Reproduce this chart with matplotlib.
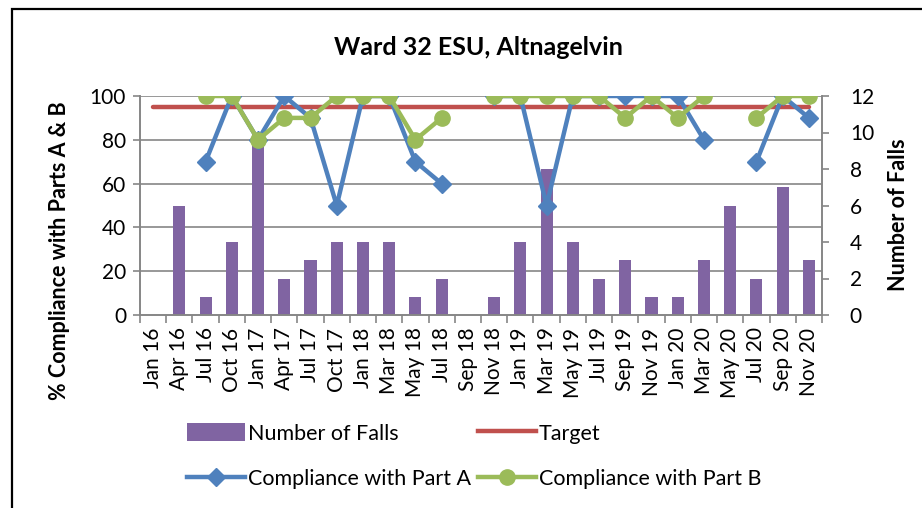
import numpy as np
import matplotlib
matplotlib.use("Agg")
import matplotlib.pyplot as plt
from matplotlib.patches import Patch, Rectangle
from matplotlib.lines import Line2D

plt.rcParams['font.family'] = ['Lato', 'DejaVu Sans']

categories = ["Jan 16", "Apr 16", "Jul 16", "Oct 16", "Jan 17", "Apr 17", "Jul 17",
              "Oct 17", "Jan 18", "Mar 18", "May 18", "Jul 18", "Sep 18", "Nov 18",
              "Jan 19", "Mar 19", "May 19", "Jul 19", "Sep 19", "Nov 19", "Jan 20",
              "Mar 20", "May 20", "Jul 20", "Sep 20", "Nov 20"]
falls = [0, 6, 1, 4, 10, 2, 3, 4, 4, 4, 1, 2, 0, 1,
         4, 8, 4, 2, 3, 1, 1, 3, 6, 2, 7, 3]
target = [95] * len(categories)
part_a = [np.nan, np.nan, 70, 100, 80, 100, 90, 50, 100, 100, 70, 60, np.nan, 100,
          100, 50, 100, 100, 100, 100, 100, 80, np.nan, 70, 100, 90]
part_b = [np.nan, np.nan, 100, 100, 80, 90, 90, 100, 100, 100, 80, 90, np.nan, 100,
          100, 100, 100, 100, 90, 100, 90, 100, np.nan, 90, 100, 100]
left_ticks = [0, 20, 40, 60, 80, 100]
right_ticks = [0, 2, 4, 6, 8, 10, 12]

PURPLE = "#8064A2"
RED = "#C0504D"
BLUE = "#4F81BD"
GREEN = "#9BBB59"
GRAY = "#868686"

W, H = 922, 508
fig = plt.figure(figsize=(W / 100, H / 100), dpi=100)
fig.patch.set_facecolor("white")

# outer border
fig.patches.append(Rectangle((12 / W, -0.05), 1.2, 1 - 9 / H + 0.05,
                             transform=fig.transFigure, fill=False,
                             edgecolor="black", linewidth=1.6))

L, R, T, B = 140, 822, 96, 315
ax = fig.add_axes([L / W, 1 - B / H, (R - L) / W, (B - T) / H])
ax2 = ax.twinx()
ax.set_zorder(2)
ax2.set_zorder(1)
ax.patch.set_visible(False)

x = np.arange(len(categories))

# gridlines (at left tick positions) drawn under bars
for v in left_ticks[1:]:
    ax2.axhline(v * right_ticks[-1] / left_ticks[-1], color=GRAY, lw=1.2, zorder=0)

ax2.bar(x, falls, width=0.46, color=PURPLE, zorder=2)
ax.plot(x, target, color=RED, lw=3.2, solid_capstyle="round", zorder=3)
ax.plot(x, part_a, color=BLUE, lw=3.2, marker="D", markersize=9, zorder=4)
ax.plot(x, part_b, color=GREEN, lw=3.2, marker="o", markersize=11, zorder=5)

ax.set_xlim(-0.5, len(categories) - 0.5)
ax.set_ylim(0, 100)
ax2.set_ylim(0, 12)
ax.set_yticks(left_ticks)
ax2.set_yticks(right_ticks)

ax.set_xticks(x)
ax.set_xticklabels(categories, rotation=90)
ax.set_xticks(np.arange(-0.5, len(categories), 1), minor=True)
ax.tick_params(axis="x", which="major", length=0, pad=9, labelsize=15)
ax.tick_params(axis="x", which="minor", length=6, color=GRAY, width=1.2)
ax.tick_params(axis="y", length=5, color=GRAY, width=1.2, labelsize=15, pad=5)
ax2.tick_params(axis="y", length=5, color=GRAY, width=1.2, labelsize=15, pad=15)
ax2.tick_params(axis="x", length=0)

for a in (ax, ax2):
    a.spines["top"].set_visible(False)
    for s in ("left", "right", "bottom"):
        a.spines[s].set_color(GRAY)
        a.spines[s].set_linewidth(1.2)

fig.text(60 / W, 1 - 251 / H, "% Compliance with Parts A & B", rotation=90,
         ha="center", va="center", fontsize=15.5, fontweight="bold")
fig.text(898 / W, 1 - 215 / H, "Number of Falls", rotation=90,
         ha="center", va="center", fontsize=15.5, fontweight="bold")
fig.text(478 / W, 1 - 47 / H, "Ward 32 ESU, Altnagelvin", ha="center", va="center",
         fontsize=18, fontweight="bold")

h_falls = Patch(facecolor=PURPLE)
h_target = Line2D([], [], color=RED, lw=3.2)
h_a = Line2D([], [], color=BLUE, lw=3.2, marker="D", markersize=9)
h_b = Line2D([], [], color=GREEN, lw=3.2, marker="o", markersize=11)
handles = [h_falls, h_a, h_target, h_b]
labels = ["Number of Falls", "Compliance with Part A", "Target", "Compliance with Part B"]
fig.legend(handles, labels, ncol=2, loc="center left",
           bbox_to_anchor=(176 / W, 1 - 456 / H), frameon=False, fontsize=15.5,
           handlelength=2.7, handleheight=0.9, handletextpad=0.15,
           columnspacing=0.3, labelspacing=1.15, borderpad=0)

fig.savefig("out.png", dpi=100)
